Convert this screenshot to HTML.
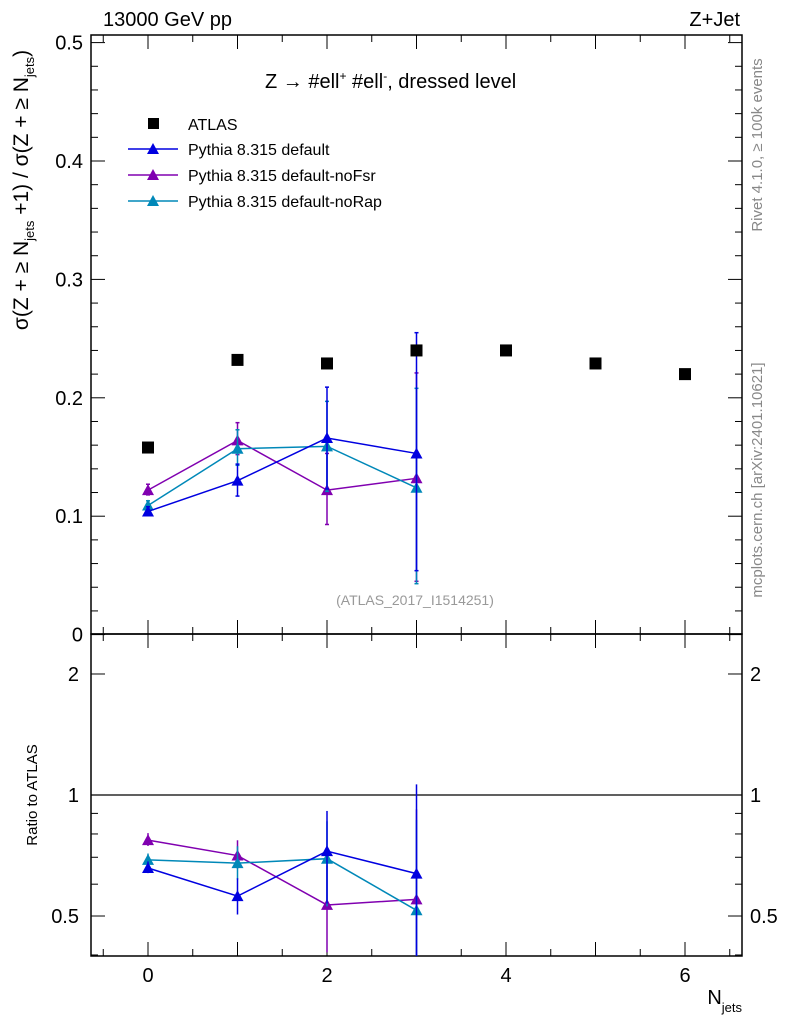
<!DOCTYPE html>
<html><head><meta charset="utf-8"><style>
body{margin:0;background:#fff}
svg{display:block;font-family:"Liberation Sans",Arial,sans-serif}
</style></head><body>
<svg id="c" width="786" height="1024" xmlns="http://www.w3.org/2000/svg"></svg>
<script>
const categories=[0,1,2,3,4,5,6];
const atlasValues=[0.158,0.232,0.229,0.240,0.240,0.229,0.220];
const mcX=[0,1,2,3];
const defVals=[0.104,0.130,0.166,0.153];
const defLo=[0.101,0.117,0.123,0.054];
const defHi=[0.108,0.144,0.209,0.255];
const fsrVals=[0.122,0.164,0.122,0.132];
const fsrLo=[0.118,0.152,0.093,0.045];
const fsrHi=[0.127,0.179,0.153,0.221];
const rapVals=[0.109,0.157,0.159,0.124];
const rapLo=[0.105,0.143,0.121,0.043];
const rapHi=[0.113,0.173,0.197,0.208];
const yTicks=[0,0.1,0.2,0.3,0.4,0.5];
const yTickLabels=["0","0.1","0.2","0.3","0.4","0.5"];
const xTicks=[0,2,4,6];
const rTicks=[0.5,1,2];
const rTickLabels=["0.5","1","2"];

const L=91,R=742,T=35,MB=634,RB=956;
const sx=v=>148+(v)*89.5;
const sy=v=>634.6-v*1184;
const sr=v=>795-Math.log10(v)*402;
const svg=document.getElementById('c');
const NS='http://www.w3.org/2000/svg';
function mk(tag,at,name,parent){const e=document.createElementNS(NS,tag);for(const k in at)e.setAttribute(k,at[k]);


(parent||svg).appendChild(e);return e;}
function txt(x,y,s,name,at){const e=mk('text',Object.assign({x:x,y:y,'font-size':20},at||{}),name);e.textContent=s;return e;}

mk('rect',{x:L,y:T,width:R-L,height:MB-T,fill:'none',stroke:'#000','stroke-width':1.5},'main-frame');
mk('rect',{x:L,y:MB,width:R-L,height:RB-MB,fill:'none',stroke:'#000','stroke-width':1.5},'ratio-frame');
for(let i=0;i<=25;i++){const v=i*0.02,y=sy(v);if(y<T)continue;const big=i%5==0;
mk('line',{x1:L,x2:L+(big?14:7),y1:y,y2:y,stroke:'#000'},'y-tick');
mk('line',{x1:R,x2:R-(big?14:7),y1:y,y2:y,stroke:'#000'},'y-tick-right');}
yTicks.forEach((v,i)=>txt(83,sy(v)+7,yTickLabels[i],'y-tick-label',{'text-anchor':'end'}));
for(let k=-1;k<=13;k++){const v=k*0.5,x=sx(v);if(x<L||x>R)continue;const big=k%2==0;
[MB,RB].forEach(b=>{mk('line',{x1:x,x2:x,y1:b,y2:b-(big?14:7),stroke:'#000'},'x-tick');});
[T,MB].forEach(t=>{mk('line',{x1:x,x2:x,y1:t,y2:t+(big?14:7),stroke:'#000'},'x-tick-top');});}
xTicks.forEach(v=>txt(sx(v),982,String(v),'x-tick-label',{'text-anchor':'middle'}));
const minor=[0.4,0.5,0.6,0.7,0.8,0.9,1,2];
minor.forEach(v=>{const y=sr(v);if(y>RB||y<MB)return;const big=rTicks.includes(v);
mk('line',{x1:L,x2:L+(big?14:7),y1:y,y2:y,stroke:'#000'},'ratio-tick');
mk('line',{x1:R,x2:R-(big?14:7),y1:y,y2:y,stroke:'#000'},'ratio-tick-right');});
rTicks.forEach((v,i)=>{txt(79,sr(v)+7,rTickLabels[i],'ratio-tick-label',{'text-anchor':'end'});
txt(750,sr(v)+7,rTickLabels[i],'ratio-tick-label-right');});
mk('line',{x1:L,x2:R,y1:sr(1),y2:sr(1),stroke:'#000','stroke-width':1.2},'ratio-unity-line');

txt(103,26,'13000 GeV pp','header-left');
txt(740,26,'Z+Jet','header-right',{'text-anchor':'end'});
const tt=txt(265,88,'','plot-title');tt.innerHTML='Z \u2192 #ell<tspan dy="-8" font-size="12">+</tspan><tspan dy="8"> #ell</tspan><tspan dy="-8" font-size="12">-</tspan><tspan dy="8">, dressed level</tspan>';
txt(415,605,'(ATLAS_2017_I1514251)','analysis-id',{'text-anchor':'middle','font-size':14,fill:'#999'});
const yl=mk('text',{transform:'translate(28,190) rotate(-90)','text-anchor':'middle','font-size':21},'y-axis-title');
yl.innerHTML='σ(Z + ≥ N<tspan dy="6" font-size="13">jets</tspan><tspan dy="-6"> +1) / σ(Z + ≥ N</tspan><tspan dy="6" font-size="13">jets</tspan><tspan dy="-6">)</tspan>';
mk('text',{transform:'translate(37,795) rotate(-90)','text-anchor':'middle','font-size':15},'ratio-axis-title').textContent='Ratio to ATLAS';
const xl=txt(742,1004,'','x-axis-title',{'text-anchor':'end'});xl.innerHTML='N<tspan dy="8" font-size="13">jets</tspan>';
mk('text',{transform:'translate(762,145) rotate(-90)','text-anchor':'middle','font-size':15,fill:'#888'},'rivet-label').textContent='Rivet 4.1.0, ≥ 100k events';
mk('text',{transform:'translate(762,480) rotate(-90)','text-anchor':'middle','font-size':15,fill:'#888'},'mcplots-label').textContent='mcplots.cern.ch [arXiv:2401.10621]';

function tri(x,y,c,name){mk('polygon',{points:`${x},${y-6} ${x-6},${y+5} ${x+6},${y+5}`,fill:c},name);}
function series(vals,lo,hi,c,name){
  const pts=mcX.map((x,i)=>sx(x)+','+sy(vals[i])).join(' ');
  mk('polyline',{points:pts,fill:'none',stroke:c,'stroke-width':1.5},name+'-line');
  mcX.forEach((x,i)=>{const X=sx(x);
    mk('line',{x1:X,x2:X,y1:sy(lo[i]),y2:sy(hi[i]),stroke:c,'stroke-width':1.5},name+'-error');
    [lo[i],hi[i]].forEach(v=>mk('line',{x1:X-2,x2:X+2,y1:sy(v),y2:sy(v),stroke:c,'stroke-width':1.5},name+'-error-cap'));
    tri(X,sy(vals[i]),c,name+'-point');});
  const rp=mcX.map((x,i)=>sx(x)+','+sr(vals[i]/atlasValues[i])).join(' ');
  mk('polyline',{points:rp,fill:'none',stroke:c,'stroke-width':1.5},name+'-ratio-line');
  mcX.forEach((x,i)=>{const X=sx(x),a=atlasValues[i];
    const y1=Math.min(RB,sr(Math.max(lo[i]/a,0.01))),y2=Math.max(MB,sr(hi[i]/a));
    mk('line',{x1:X,x2:X,y1:y1,y2:y2,stroke:c,'stroke-width':1.5},name+'-ratio-error');
    tri(X,sr(vals[i]/a),c,name+'-ratio-point');});
}
series(fsrVals,fsrLo,fsrHi,'#8000b0','pythia-nofsr');
series(rapVals,rapLo,rapHi,'#0088b8','pythia-norap');
series(defVals,defLo,defHi,'#0000e0','pythia-default');
categories.forEach((x,i)=>mk('rect',{x:sx(x)-6,y:sy(atlasValues[i])-6,width:12,height:12,fill:'#000'},'atlas-point'));

mk('rect',{x:148,y:118,width:11,height:11,fill:'#000'},'legend-atlas-marker');
txt(188,130,'ATLAS','legend-atlas-label',{'font-size':16});
[['Pythia 8.315 default','#0000e0','legend-default'],['Pythia 8.315 default-noFsr','#8000b0','legend-nofsr'],['Pythia 8.315 default-noRap','#0088b8','legend-norap']].forEach((d,i)=>{
  const y=149+i*26;
  mk('line',{x1:128,x2:178,y1:y,y2:y,stroke:d[1],'stroke-width':1.5},d[2]+'-line');
  tri(153,y,d[1],d[2]+'-marker');
  txt(188,y+6,d[0],d[2]+'-label',{'font-size':16});
});
</script>
</body></html>
